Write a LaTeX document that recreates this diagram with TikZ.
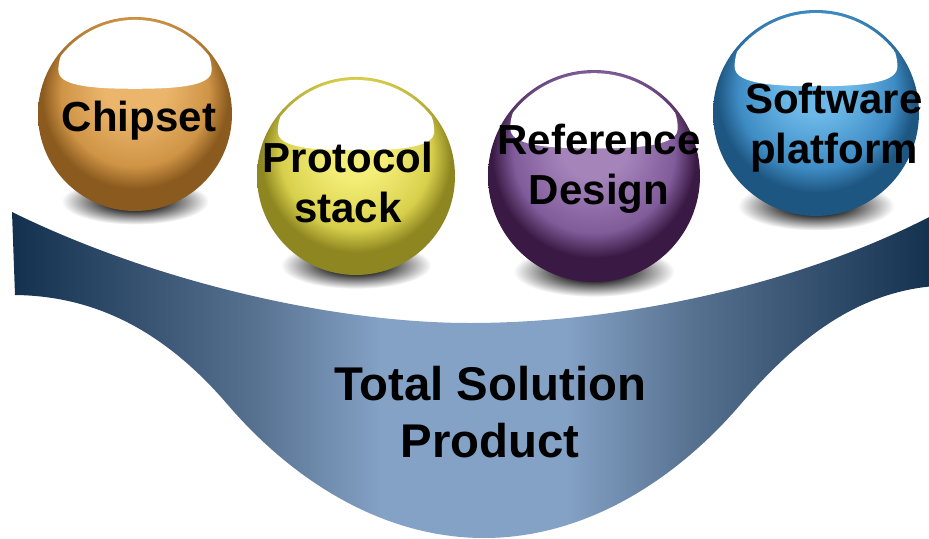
\documentclass[tikz,border=0pt]{standalone}
\usepackage{fontspec}
\setmainfont{Liberation Sans}
\usetikzlibrary{calc}
\definecolor{bowldark}{HTML}{13304F}
\definecolor{bowlmid}{HTML}{56708F}
\definecolor{bowllight}{HTML}{84A2C6}
\definecolor{chiplight}{HTML}{EBB66C}
\definecolor{chipmid}{HTML}{CF9446}
\definecolor{chipdark}{HTML}{8A5A1E}
\definecolor{protolight}{HTML}{F4EE78}
\definecolor{protomid}{HTML}{D8D04C}
\definecolor{protodark}{HTML}{8E8620}
\definecolor{reflight}{HTML}{A584BA}
\definecolor{refmid}{HTML}{805C9A}
\definecolor{refdark}{HTML}{3A1A44}
\definecolor{softlight}{HTML}{6CB8E8}
\definecolor{softmid}{HTML}{3E8CC4}
\definecolor{softdark}{HTML}{1E5682}
\pgfdeclarehorizontalshading{bowlshade}{100bp}{color(0bp)=(bowldark); color(25bp)=(bowldark); color(38bp)=(bowlmid); color(45bp)=(bowllight); color(55bp)=(bowllight); color(62bp)=(bowlmid); color(75bp)=(bowldark); color(100bp)=(bowldark)}
\pgfdeclareradialshading{ballshadow}{\pgfpoint{0bp}{0bp}}{color(0bp)=(black!95); color(10bp)=(black!80); color(25bp)=(white); color(50bp)=(white)}
\def\ballshade#1{\pgfdeclareradialshading{#1ball}{\pgfpoint{0bp}{9bp}}{color(0bp)=(#1light); color(8bp)=(#1light); color(19bp)=(#1mid); color(24bp)=(#1dark); color(25bp)=(#1dark); color(50bp)=(#1dark)}}
\ballshade{chip}\ballshade{proto}\ballshade{ref}\ballshade{soft}
% x, y, radius, shading
\def\ball#1#2#3#4{%
  \shade[shading=ballshadow] (#1,{#2+0.9*#3}) ellipse ({0.76*#3} and {0.24*#3});
  \shade[shading=#4] (#1,#2) circle (#3);
  \begin{scope}
    \clip (#1,#2) circle ({0.97*#3});
    \fill[white, shift={(#1,#2)}, scale=#3] (-0.79,-0.45) .. controls (-0.79,-1.16) and (0.79,-1.16) .. (0.79,-0.45)
      .. controls (0.79,-0.30) and (0.5,-0.26) .. (0,-0.26) .. controls (-0.5,-0.26) and (-0.79,-0.30) .. cycle;
  \end{scope}
}
\tikzset{
  balltext/.style={font=\fontsize{31.5}{37.5}\selectfont\bfseries, align=center, anchor=base, inner sep=0pt},
  totaltext/.style={font=\fontsize{35.5}{42.75}\selectfont\bfseries, align=center, anchor=base, inner sep=0pt}
}
\begin{document}
\begin{tikzpicture}[x=0.75pt, y=-0.75pt]
  \useasboundingbox (0,0) rectangle (929,539);

  % bowl
  \shade[shading=bowlshade] (12,212) .. controls (150,280) and (330,323) .. (470,323)
    .. controls (620,323) and (800,285) .. (935,214) -- (935,286)
    .. controls (860,292) and (800,335) .. (740,405)
    .. controls (680,475) and (590,538) .. (484,538)
    .. controls (378,538) and (288,475) .. (228,405)
    .. controls (168,335) and (100,296) .. (15,295) -- cycle;

  % balls
  \ball{135}{114}{97}{chipball}
  \ball{356}{176}{99}{protoball}
  \ball{594}{176}{106}{refball}
  \ball{816}{113}{103}{softball}

  \node[balltext] (chip) at (139,131) {Chipset};
  \node[balltext] (proto) at (348,222) {Protocol\\stack};
  \node[balltext] (refdes) at (599,204) {Reference\\Design};
  \node[balltext] (soft) at (834,163) {Software\\platform};

  \node[totaltext] (total) at (490,457) {Total Solution\\Product};
\end{tikzpicture}
\end{document}
